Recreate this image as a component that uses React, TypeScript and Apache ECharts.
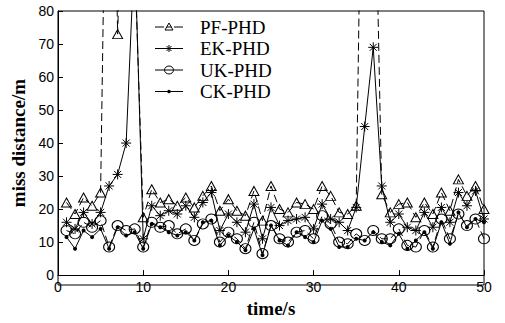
import React, { useEffect, useRef } from "react";
import * as echarts from "echarts";

const times = Array.from({ length: 50 }, (_, i) => i + 1);

const pfPHD = [
  22, 18.5, 23.5, 21, 25, 200, 73, 160, 96, 17.5,
  26, 22, 23, 21, 23.5, 20.5, 24, 27, 19.5, 23,
  19.5, 18, 25.5, 16.5, 27, 20, 19, 22, 21.5, 20,
  27, 24, 19, 18.5, 21, 200, 150, 24.5, 19, 21.5,
  22, 17.5, 22, 18.5, 25, 19.5, 29, 24, 27, 20,
];
const ekPHD = [
  16, 14, 19, 15.5, 19, 27, 30.5, 40, 100, 11,
  21, 18, 19.5, 18.5, 21, 17.5, 22, 25, 13.5, 18.5,
  16, 13, 21.5, 11, 20.5, 15, 16.5, 17, 17.5, 14,
  21.5, 17, 16, 13.5, 20.5, 45, 69, 27, 16, 18.5,
  14.5, 13.5, 19, 14.5, 20.5, 16, 25, 21, 25.5, 17,
];
const ukPHD = [
  13.5, 12.5, 16, 14.5, 16.5, 8.5, 15, 13.5, 14, 8.5,
  16, 14.5, 15, 12.5, 14, 10.5, 15.5, 17, 10, 13,
  11, 8, 16, 6.5, 15, 11, 10, 13, 13.5, 11,
  18, 15.5, 10, 9.5, 12.5, 10.5, 13.5, 11, 11, 14,
  9, 8.5, 13.5, 8.5, 17, 11, 18.5, 15, 17, 11,
];
const ckPHD = [
  11.5, 8, 13.5, 11.5, 14, 8, 14.5, 12, 13, 8,
  15.5, 14.5, 13, 12, 13, 10.5, 16, 16.5, 9, 12,
  10, 7.5, 14, 6, 15, 10.5, 9, 13, 11.5, 10,
  16.5, 14, 8.5, 8.5, 11, 10.5, 13, 10, 9, 12.5,
  8, 10.5, 13, 8, 16, 9.5, 19, 14.5, 17, 16,
];

const seriesNames = ["PF-PHD", "EK-PHD", "UK-PHD", "CK-PHD"];
const xTicks = { min: 0, max: 50, interval: 10 };
const yTicks = { min: 0, max: 80, interval: 10 };

const asterisk =
  "path://M5,0L5,10M0,5L10,5M1.5,1.5L8.5,8.5M1.5,8.5L8.5,1.5";

function legendGraphics() {
  const rowsY = [27, 48.5, 70, 91.5];
  const x0 = 155;
  const x1 = 183;
  const cx = 169;
  const els: any[] = [];
  const stroke = { stroke: "#000", lineWidth: 1 };
  rowsY.forEach((y, i) => {
    const dashed = i === 0 || i === 2;
    if (dashed) {
      els.push({ type: "line", shape: { x1: x0, y1: y, x2: cx - 5, y2: y }, style: stroke });
      els.push({ type: "line", shape: { x1: cx + 5, y1: y, x2: x1, y2: y }, style: stroke });
    } else {
      els.push({ type: "line", shape: { x1: x0, y1: y, x2: x1, y2: y }, style: stroke });
    }
    if (i === 0) {
      els.push({
        type: "polygon",
        shape: { points: [[cx, y - 4], [cx - 4, y + 3], [cx + 4, y + 3]] },
        style: { fill: "none", ...stroke },
      });
      els.push({ type: "line", shape: { x1: cx - 2.5, y1: y, x2: cx + 2.5, y2: y }, style: stroke });
    } else if (i === 1) {
      const r = 3.5;
      const d = 2.5;
      els.push({ type: "line", shape: { x1: cx, y1: y - r, x2: cx, y2: y + r }, style: stroke });
      els.push({ type: "line", shape: { x1: cx - d, y1: y - d, x2: cx + d, y2: y + d }, style: stroke });
      els.push({ type: "line", shape: { x1: cx - d, y1: y + d, x2: cx + d, y2: y - d }, style: stroke });
    } else if (i === 2) {
      els.push({ type: "ellipse", shape: { cx, cy: y, rx: 4.5, ry: 4 }, style: { fill: "none", ...stroke } });
      els.push({ type: "line", shape: { x1: cx - 4.5, y1: y, x2: cx + 4.5, y2: y }, style: stroke });
    } else {
      els.push({ type: "circle", shape: { cx, cy: y, r: 1.8 }, style: { fill: "#000" } });
    }
    els.push({
      type: "text",
      x: 200,
      y,
      style: {
        text: seriesNames[i],
        font: "19px 'Liberation Serif'",
        fill: "#000",
        verticalAlign: "middle",
        align: "left",
      },
    });
  });
  return els;
}

export default function App() {
  const ref = useRef<HTMLDivElement>(null);
  useEffect(() => {
    if (!ref.current) return;
    const chart = echarts.init(ref.current, null, {
      renderer: "svg",
      width: 505,
      height: 323,
    });
    const pair = (arr: number[]) => times.map((t, i) => [t, arr[i]]);
    const dash = [8, 4];
    chart.setOption({
      animation: false,
      backgroundColor: "#fff",
      grid: { left: 58, right: 21, top: 11, bottom: 38 },
      xAxis: {
        type: "value",
        ...xTicks,
        name: "time/s",
        nameLocation: "middle",
        nameGap: 16,
        nameTextStyle: {
          fontFamily: "Liberation Serif",
          fontSize: 19,
          fontWeight: "bold",
          color: "#000",
        },
        axisLine: { show: true, onZero: false, lineStyle: { color: "#000", width: 1 } },
        axisTick: { show: true, inside: true, length: 5, lineStyle: { color: "#000" } },
        axisLabel: {
          fontFamily: "Liberation Sans",
          fontSize: 14,
          color: "#000",
          margin: 5,
        },
        splitLine: { show: false },
      },
      yAxis: {
        type: "value",
        ...yTicks,
        name: "miss distance/m",
        nameLocation: "middle",
        nameGap: 26,
        nameTextStyle: {
          fontFamily: "Liberation Serif",
          fontSize: 19,
          fontWeight: "bold",
          color: "#000",
        },
        axisLine: { show: true, onZero: false, lineStyle: { color: "#000", width: 1 } },
        axisTick: { show: true, inside: true, length: 5, lineStyle: { color: "#000" } },
        axisLabel: {
          fontFamily: "Liberation Sans",
          fontSize: 14,
          color: "#000",
          margin: 4,
        },
        splitLine: { show: false },
      },
      graphic: [
        {
          type: "rect",
          shape: { x: 58, y: 11, width: 426, height: 274 },
          style: { fill: "none", stroke: "#000", lineWidth: 1 },
          silent: true,
          z: 10,
        },
        ...legendGraphics(),
      ],
      series: [
        {
          name: seriesNames[0],
          type: "line",
          data: pair(pfPHD),
          symbol: "triangle",
          symbolSize: [10, 9],
          showAllSymbol: true,
          clip: true,
          lineStyle: { color: "#000", width: 1, type: dash },
          itemStyle: { color: "rgba(0,0,0,0)", borderColor: "#000", borderWidth: 1 },
        },
        {
          name: seriesNames[1],
          type: "line",
          data: pair(ekPHD),
          symbol: asterisk,
          symbolSize: 10,
          showAllSymbol: true,
          clip: true,
          lineStyle: { color: "#000", width: 1 },
          itemStyle: { color: "rgba(0,0,0,0)", borderColor: "#000", borderWidth: 1 },
        },
        {
          name: seriesNames[2],
          type: "line",
          data: pair(ukPHD),
          symbol: "circle",
          symbolSize: [11, 10],
          showAllSymbol: true,
          clip: true,
          lineStyle: { color: "#000", width: 1, type: dash },
          itemStyle: { color: "rgba(0,0,0,0)", borderColor: "#000", borderWidth: 1 },
        },
        {
          name: seriesNames[3],
          type: "line",
          data: pair(ckPHD),
          symbol: "circle",
          symbolSize: 4,
          showAllSymbol: true,
          clip: true,
          lineStyle: { color: "#000", width: 1 },
          itemStyle: { color: "#000", borderColor: "#000", borderWidth: 0 },
        },
      ],
    });
    return () => chart.dispose();
  }, []);
  return (
    <div
      ref={ref}
      style={{ position: "absolute", left: 0, top: 0, width: 505, height: 323 }}
    />
  );
}
